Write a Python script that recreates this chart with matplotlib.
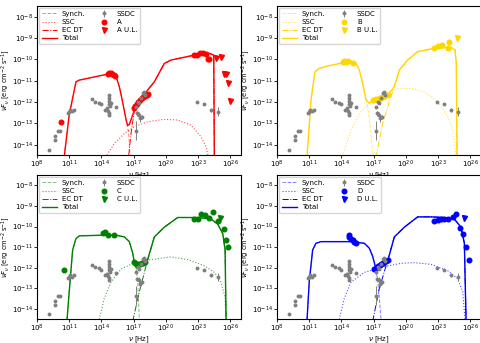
import numpy as np
import matplotlib
matplotlib.use("Agg")
import matplotlib.pyplot as plt
from matplotlib.ticker import FixedLocator, NullLocator, LogFormatterMathtext

#### Data (log10 nu [Hz], log10 nuFnu [erg cm-2 s-1]) ####

# SSDC archive points (same in every panel)
ssdc_x = [9.15, 9.7, 9.7, 9.93, 10.17, 10.86, 11.0, 11.1, 11.26, 11.42,
          13.12, 13.43, 13.8, 13.96, 14.33, 14.52, 14.64, 14.8, 14.9, 14.73,
          14.7, 14.7, 14.75, 14.75, 14.7, 15.36,
          17.22, 17.37, 17.53, 17.68, 17.84, 17.93, 18.08,
          17.31, 17.53, 17.62, 17.75, 17.22,
          22.87, 23.52, 24.2, 24.82]
ssdc_y = [-14.25, -13.6, -13.8, -13.36, -13.36, -12.5, -12.45, -12.37, -12.42, -12.37,
          -11.86, -11.98, -12.03, -12.1, -12.37, -12.3, -12.4, -12.2, -12.06, -11.67,
          -11.8, -11.95, -12.1, -12.5, -12.6, -12.25,
          -12.22, -11.98, -12.06, -11.83, -11.59, -11.52, -11.67,
          -12.53, -12.61, -12.77, -12.69, -13.35,
          -12.01, -12.09, -12.37, -12.45]
ssdc_err = [0.0] * 33 + [0.1, 0.15, 0.15, 0.1, 0.45, 0.0, 0.0, 0.08, 0.2]

# Panel A
synch_A = [[10.55, 11.0, 11.63, 11.94, 14.9, 15.36, 15.67, 16.0, 16.3, 16.54, 16.66],
           [-14.5, -12.6, -11.05, -10.97, -10.66, -10.8, -11.28, -12.06, -12.84, -13.47, -14.5]]
ssc_A = [[14.52, 15.2, 16.14, 17.07, 18.3, 19.86, 21.1, 22.35, 23.28, 23.75, 23.96],
         [-14.48, -13.94, -13.47, -13.16, -12.92, -12.81, -12.84, -13.08, -13.63, -14.1, -14.6]]
ec_A = [[16.54, 16.76, 17.07, 17.7, 18.3, 18.93, 19.86, 20.5, 22.66, 24.05, 24.46, 24.52],
        [-14.5, -13.47, -12.38, -11.83, -11.44, -11.05, -10.19, -10.03, -9.8, -9.72, -9.8, -14.6]]
total_A = [[10.55, 11.0, 11.63, 11.94, 14.9, 15.36, 15.67, 16.0, 16.3, 16.45, 16.6,
            17.07, 17.7, 18.3, 18.93, 19.86, 20.5, 22.66, 24.05, 24.46, 24.52],
           [-14.5, -12.6, -11.05, -10.97, -10.66, -10.8, -11.28, -12.06, -12.84, -13.1, -13.05,
            -12.38, -11.83, -11.44, -11.05, -10.19, -10.03, -9.8, -9.72, -9.8, -14.6]]
data_A_x = [10.24, 14.6, 14.7, 14.85, 15.0, 15.15, 15.3,
            17.0, 17.15, 17.3, 17.45, 17.6, 17.75, 17.9, 18.05, 18.2, 18.3,
            22.6, 22.9, 23.2, 23.5, 23.7, 23.9, 24.05]
data_A_y = [-12.95, -10.68, -10.62, -10.65, -10.7, -10.75, -10.78,
            -12.3, -12.2, -12.1, -12.0, -11.9, -11.8, -11.75, -11.7, -11.65, -11.6,
            -9.8, -9.78, -9.72, -9.7, -9.75, -9.98, -10.0]
ul_A_x = [24.68, 25.14, 25.39, 25.6, 25.76, 26.0]
ul_A_y = [-9.95, -9.88, -10.69, -10.69, -11.13, -11.95]

# Panel B
synch_B = [[10.8, 11.17, 11.54, 11.94, 12.72, 14.9, 15.36, 15.67, 15.98, 16.29, 16.54, 16.76, 16.91],
           [-14.5, -11.9, -10.58, -10.42, -10.31, -10.08, -10.19, -10.5, -11.13, -11.9, -12.53, -13.47, -14.5]]
ssc_B = [[14.12, 14.9, 15.83, 16.76, 18.0, 19.24, 20.48, 21.73, 22.97, 23.9, 24.37, 24.68],
         [-14.5, -13.3, -12.45, -11.98, -11.6, -11.36, -11.36, -11.52, -11.98, -12.69, -13.3, -14.6]]
ec_B = [[17.22, 17.84, 18.47, 19.4, 20.17, 21.1, 22.66, 24.21, 24.58, 24.7, 24.77],
        [-14.6, -13.0, -11.98, -10.5, -10.03, -9.64, -9.48, -9.44, -9.56, -10.19, -14.6]]
total_B = [[10.8, 11.17, 11.54, 11.94, 12.72, 14.9, 15.36, 15.67, 15.98, 16.29, 16.6,
            17.38, 18.31, 18.93, 19.4, 20.17, 21.1, 22.66, 24.21, 24.58, 24.7, 24.77],
           [-14.5, -11.9, -10.58, -10.42, -10.31, -10.08, -10.19, -10.5, -11.13, -11.9, -12.05,
            -11.83, -11.67, -11.28, -10.5, -10.03, -9.64, -9.48, -9.44, -9.56, -10.19, -14.6]]
data_B_x = [14.12, 14.27, 14.43, 14.58, 15.11,
            16.91, 17.07, 17.2, 17.38, 17.55, 17.69, 17.85, 18.0, 18.15, 18.3,
            22.66, 23.03, 23.37, 23.9, 24.05]
data_B_y = [-10.11, -10.08, -10.11, -10.08, -10.19,
            -11.92, -11.9, -11.88, -11.85, -11.82, -11.8, -11.75, -11.72, -11.68, -11.65,
            -9.48, -9.38, -9.33, -9.48, -9.17]
ul_B_x = [24.77]
ul_B_y = [-9.02]

# Panel C
synch_C = [[10.8, 11.0, 11.32, 11.63, 11.94, 13.96, 15.36, 16.14, 16.6, 16.91, 17.07, 17.22, 17.38, 17.53],
           [-14.5, -13.16, -11.13, -10.58, -10.45, -10.42, -10.42, -10.5, -10.73, -11.28, -11.75, -11.95, -12.69, -14.5]]
ssc_C = [[13.8, 14.27, 14.9, 15.83, 17.07, 18.62, 20.48, 22.04, 23.59, 24.52, 25.14, 25.52, 25.6],
         [-14.5, -13.47, -12.69, -12.06, -11.75, -11.6, -11.47, -11.6, -11.9, -12.22, -12.69, -13.47, -14.6]]
ec_C = [[16.91, 17.53, 18.16, 18.93, 19.86, 21.1, 22.97, 24.21, 24.83, 25.3, 25.52, 25.61],
        [-14.6, -13.16, -11.9, -10.5, -10.03, -9.56, -9.56, -9.64, -9.88, -10.34, -11.13, -14.6]]
total_C = [[10.8, 11.0, 11.32, 11.63, 11.94, 13.96, 15.36, 16.14, 16.6, 16.91, 17.07, 17.3,
            17.7, 18.3, 18.93, 19.86, 21.1, 22.97, 24.21, 24.83, 25.3, 25.52, 25.61],
           [-14.5, -13.16, -11.13, -10.58, -10.45, -10.42, -10.42, -10.5, -10.73, -11.28, -11.75, -11.9,
            -11.75, -11.6, -10.5, -10.03, -9.56, -9.56, -9.64, -9.88, -10.34, -11.13, -14.6]]
data_C_x = [10.55, 14.12, 14.33, 14.58, 15.2,
            17.0, 17.15, 17.3, 17.45, 17.6, 17.75, 17.9, 18.05,
            22.66, 22.97, 23.28, 23.65, 24.06, 24.37, 24.83, 25.39, 25.61, 25.76]
data_C_y = [-12.09, -10.3, -10.27, -10.39, -10.42,
            -11.72, -11.78, -11.88, -11.82, -11.8, -11.78, -11.75, -11.7,
            -9.64, -9.64, -9.41, -9.45, -9.59, -9.3, -9.75, -10.11, -10.66, -10.97]
ul_C_x = [25.08]
ul_C_y = [-9.59]

# Panel D
synch_D = [[10.8, 11.0, 11.32, 11.63, 12.1, 14.9, 16.14, 16.6, 16.91, 17.22, 17.38, 17.53, 17.69],
           [-14.5, -12.69, -11.13, -10.81, -10.73, -10.73, -10.81, -11.05, -11.44, -12.06, -12.69, -13.47, -14.5]]
ssc_D = [[13.8, 14.27, 14.9, 16.14, 17.69, 19.55, 20.8, 22.35, 23.9, 24.83, 25.3, 25.52],
         [-14.5, -13.47, -12.69, -12.22, -11.98, -11.78, -11.75, -11.83, -12.14, -12.53, -13.16, -14.6]]
ec_D = [[16.91, 17.53, 18.16, 18.93, 19.86, 21.1, 22.35, 23.59, 24.52, 25.14, 25.45, 25.61],
        [-14.6, -13.0, -11.9, -10.5, -10.03, -9.53, -9.53, -9.56, -9.64, -10.03, -10.81, -14.6]]
total_D = [[10.8, 11.0, 11.32, 11.63, 12.1, 14.9, 16.14, 16.6, 16.91, 17.22,
            17.69, 18.31, 18.93, 19.86, 21.1, 22.35, 23.59, 24.52, 25.14, 25.45, 25.61],
           [-14.5, -12.69, -11.13, -10.81, -10.73, -10.73, -10.81, -11.05, -11.44, -12.06,
            -11.9, -11.67, -10.5, -10.03, -9.53, -9.53, -9.56, -9.64, -10.03, -10.81, -14.6]]
data_D_x = [14.68, 14.74, 14.9, 15.05, 15.2, 15.36,
            17.07, 17.2, 17.38, 17.55, 17.69, 17.85, 18.0, 18.15, 18.31,
            22.66, 22.97, 23.28, 23.59, 23.9, 24.37, 24.68, 25.08, 25.3, 25.61, 25.92]
data_D_y = [-10.42, -10.5, -10.58, -10.63, -10.73, -10.78,
            -12.06, -12.0, -11.9, -11.86, -11.83, -11.78, -11.72, -11.68, -11.63,
            -9.72, -9.69, -9.64, -9.64, -9.64, -9.56, -9.41, -10.06, -10.34, -10.97, -11.64]
ul_D_x = [25.45]
ul_D_y = [-9.59]

names = ['A', 'B', 'C', 'D']
colors = ['red', 'gold', 'green', 'blue']

#### Figure ####

fs = 5.0
fig = plt.figure(figsize=(4.8, 3.43), dpi=100)

# position des axes [left, bottom, width, height] en fraction
boxes = [[37/480, 188/343, 204/480, 149/343],
         [277/480, 188/343, 204/480, 149/343],
         [37/480, 24/343, 204/480, 144/343],
         [277/480, 24/343, 204/480, 144/343]]

panels = [(synch_A, ssc_A, ec_A, total_A, data_A_x, data_A_y, ul_A_x, ul_A_y),
          (synch_B, ssc_B, ec_B, total_B, data_B_x, data_B_y, ul_B_x, ul_B_y),
          (synch_C, ssc_C, ec_C, total_C, data_C_x, data_C_y, ul_C_x, ul_C_y),
          (synch_D, ssc_D, ec_D, total_D, data_D_x, data_D_y, ul_D_x, ul_D_y)]

def p(v):
    return np.power(10.0, np.asarray(v))

for k in range(4):
    ax = fig.add_axes(boxes[k])
    synch, ssc, ec, total, dx, dy, ux, uy = panels[k]
    c = colors[k]

    h1, = ax.plot(p(synch[0]), p(synch[1]), ls='--', color=c, alpha=0.5, lw=0.7, label='Synch.')
    h2, = ax.plot(p(ssc[0]), p(ssc[1]), ls=':', color=c, alpha=0.7, lw=0.8, label='SSC')
    h3, = ax.plot(p(ec[0]), p(ec[1]), ls='-.', color=c, lw=0.7, label='EC DT')
    h4, = ax.plot(p(total[0]), p(total[1]), ls='-', color=c, lw=1.0, label='Total')

    yv = p(ssdc_y)
    ev = p(ssdc_err)
    h5 = ax.errorbar(p(ssdc_x), yv, yerr=[yv * (1 - 1 / ev), yv * (ev - 1)],
                     fmt='o', color='grey', ms=1.8, elinewidth=0.7, capsize=0, label='SSDC')
    h6, = ax.plot(p(dx), p(dy), 'o', color=c, ms=3.3, ls='none', label=names[k])
    h7, = ax.plot(p(ux), p(uy), 'v', color=c, ms=3.6, ls='none', label=names[k] + ' U.L.')

    ax.set_xscale('log')
    ax.set_yscale('log')
    ax.set_xlim(1e8, 1e27)
    ax.set_ylim(10**-14.48, 10**-7.5)
    ax.xaxis.set_major_locator(FixedLocator([10.0**e for e in range(8, 27, 3)]))
    ax.yaxis.set_major_locator(FixedLocator([10.0**e for e in range(-14, -7)]))
    ax.xaxis.set_minor_locator(NullLocator())
    ax.yaxis.set_minor_locator(NullLocator())
    ax.xaxis.set_major_formatter(LogFormatterMathtext())
    ax.yaxis.set_major_formatter(LogFormatterMathtext())
    ax.tick_params(labelsize=fs, length=2.0, width=0.6, pad=1.0)
    ax.set_xlabel(r'$\nu$ [Hz]', fontsize=fs, labelpad=0)
    ax.set_ylabel(r'$\nu F_\nu$ [erg cm$^{-2}$ s$^{-1}$]', fontsize=4.8, labelpad=0)

    ax.legend([h1, h2, h3, h4, h5, h6, h7],
              ['Synch.', 'SSC', 'EC DT', 'Total', 'SSDC', names[k], names[k] + ' U.L.'],
              loc='upper left', ncol=2, fontsize=fs, frameon=True,
              handlelength=2.2, borderaxespad=0.3, labelspacing=0.3,
              columnspacing=1.6, handletextpad=0.7)

fig.savefig('out.png', dpi=100)
